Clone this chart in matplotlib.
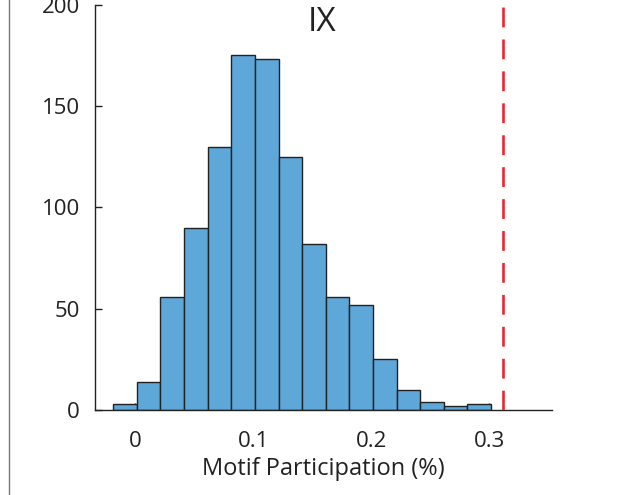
import numpy as np
import matplotlib
matplotlib.use('Agg')
import matplotlib.pyplot as plt
from matplotlib.lines import Line2D

# histogram counts per bin (bin width 0.02)
bin_left = -0.0185
bin_width = 0.02
counts = [3, 14, 56, 90, 130, 175, 173, 125, 82, 56, 52, 25, 10, 4, 2, 3]
observed = 0.312
xticks = [0, 0.1, 0.2, 0.3]
xtick_labels = ['0', '0.1', '0.2', '0.3']
yticks = [0, 50, 100, 150, 200]

plt.rcParams['font.family'] = ['Open Sans', 'DejaVu Sans']

fig = plt.figure(figsize=(6.29, 4.95), dpi=100)
ax = fig.add_axes([95/629, 85/495, (551.7-95)/629, (410-4.7)/495])

edges = bin_left + bin_width*np.arange(len(counts))
ax.bar(edges, counts, width=bin_width, align='edge', color='#5ea7d9',
       edgecolor='#222222', linewidth=1.0, zorder=2)
ax.axvline(observed, color='#ee2530', lw=1.9, ls=(0, (7.5, 4.6)), zorder=3)

ax.set_xlim(-0.034, 0.353)
ax.set_ylim(0, 200)
ax.set_xticks(xticks)
ax.set_xticklabels(xtick_labels)
ax.set_yticks(yticks)
ax.tick_params(direction='in', length=5, width=1, labelsize=16, colors='#222222')
ax.tick_params(axis='x', pad=15)
ax.tick_params(axis='y', pad=11)
for s in ['top', 'right']:
    ax.spines[s].set_visible(False)
for s in ['left', 'bottom']:
    ax.spines[s].set_color('#222222')
    ax.spines[s].set_linewidth(1.0)

ax.set_xlabel('Motif Participation (%)', fontsize=17, color='#222222', labelpad=4)
ax.text(0.497, 0.955, 'IX', transform=ax.transAxes, ha='center', va='center',
        fontsize=24, color='#222222')

# left border of neighbouring panel
fig.add_artist(Line2D([8.5/629, 8.5/629], [0, 1], transform=fig.transFigure,
                      color='#777777', lw=1.0))

fig.savefig('out.png', dpi=100, facecolor='white')
